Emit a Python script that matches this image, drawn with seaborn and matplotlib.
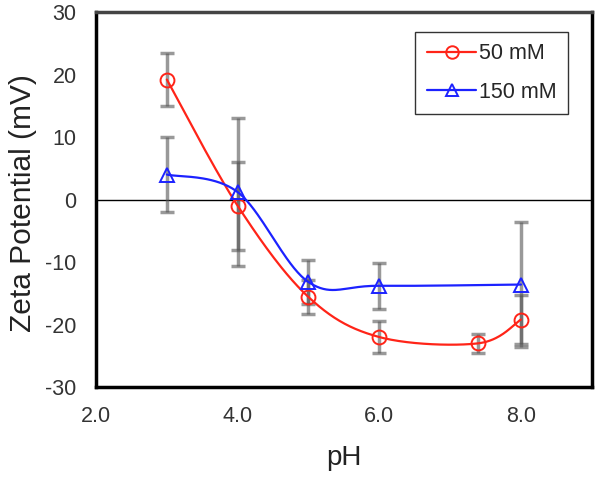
import numpy as np
import pandas as pd
import matplotlib
matplotlib.use("Agg")
import matplotlib.pyplot as plt
import seaborn as sns
from matplotlib.lines import Line2D

# Data
ph_50 = [3.0, 4.0, 5.0, 6.0, 7.4, 8.0]
zeta_50 = [19.2, -1.0, -15.6, -22.0, -23.0, -19.2]
err_50 = [4.2, 7.0, 2.7, 2.5, 1.5, 3.9]

ph_150 = [3.0, 4.0, 5.0, 6.0, 8.0]
zeta_150 = [4.0, 1.2, -13.2, -13.8, -13.6]
err_150 = [6.0, 11.8, 3.5, 3.7, 10.0]

y_ticks = [-30, -20, -10, 0, 10, 20, 30]
x_ticks = [2.0, 4.0, 6.0, 8.0]


def smooth(x, y, n=40):
    # Excel-like smoothed line (Catmull-Rom as cubic Bezier)
    p = np.column_stack([x, y]).astype(float)
    pts = [p[0]] + list(p) + [p[-1]]
    out = []
    t = np.linspace(0, 1, n)[:, None]
    for i in range(1, len(pts) - 2):
        p0, p1, p2, p3 = pts[i - 1], pts[i], pts[i + 1], pts[i + 2]
        c1 = p1 + (p2 - p0) / 6
        c2 = p2 - (p3 - p1) / 6
        seg = ((1 - t) ** 3) * p1 + 3 * ((1 - t) ** 2) * t * c1 + 3 * (1 - t) * t ** 2 * c2 + t ** 3 * p2
        out.append(seg)
    s = np.vstack(out)
    return s[:, 0], s[:, 1]


sns.set_style("white")
plt.rcParams["font.family"] = ["Liberation Sans", "DejaVu Sans"]
plt.rcParams["axes.unicode_minus"] = False

fig = plt.figure(figsize=(6.02, 4.82), dpi=100)
ax = fig.add_axes([0.1595, 0.197, 0.8235, 0.778])

red = "#ff2418"
blue = "#1c22ff"

ax.axhline(0, color="black", lw=1.0, zorder=1)

# error bars (semi transparent grey)
ax.errorbar(ph_50, zeta_50, yerr=err_50, fmt="none", ecolor="#555555",
            alpha=0.6, elinewidth=2.5, capsize=5, capthick=2.5, zorder=2)
ax.errorbar(ph_150, zeta_150, yerr=err_150, fmt="none", ecolor="#555555",
            alpha=0.6, elinewidth=2.5, capsize=5, capthick=2.5, zorder=2)

# smoothed curves
sx, sy = smooth(ph_50, zeta_50)
sns.lineplot(x=sx, y=sy, sort=False, color=red, lw=1.6, ax=ax, zorder=3)
bx, by = smooth(ph_150, zeta_150)
sns.lineplot(x=bx, y=by, sort=False, color=blue, lw=1.6, ax=ax, zorder=3)

# markers
df50 = pd.DataFrame({"pH": ph_50, "zeta": zeta_50})
df150 = pd.DataFrame({"pH": ph_150, "zeta": zeta_150})
ax.plot(df50["pH"], df50["zeta"], ls="none", marker="o", ms=10, mfc="none",
        mec=red, mew=1.4, zorder=4)
ax.plot(df150["pH"], df150["zeta"], ls="none", marker="^", ms=10, mfc="none",
        mec=blue, mew=1.4, zorder=4)

ax.set_xlim(2, 9)
ax.set_ylim(-30, 30)
ax.set_xticks(x_ticks)
ax.set_xticklabels([f"{v:.1f}" for v in x_ticks])
ax.set_yticks(y_ticks)
ax.tick_params(direction="in", length=3, width=1.5, labelsize=15.5, colors="black",
               labelcolor="#333333", pad=14)
for s in ax.spines.values():
    s.set_linewidth(2.5)
    s.set_color("black")
ax.spines["top"].set_color("#444444")

ax.set_xlabel("pH", fontsize=20, color="#222222", va="top")
ax.xaxis.set_label_coords(0.5, -0.155)
ax.set_ylabel("Zeta Potential (mV)", fontsize=21.5, color="#222222", va="center")
ax.yaxis.set_label_coords(-0.148, 0.49)

handles = [
    Line2D([], [], color=red, lw=1.6, marker="o", ms=9, mfc="none", mec=red, mew=1.4),
    Line2D([], [], color=blue, lw=1.6, marker="^", ms=9, mfc="none", mec=blue, mew=1.4),
]
leg = ax.legend(handles, ["50 mM", "150 mM"], loc="upper right",
                bbox_to_anchor=(0.952, 0.948), borderaxespad=0, fontsize=15.5,
                frameon=True, fancybox=False, edgecolor="black", handlelength=2.3,
                handletextpad=0.1, borderpad=0.55, labelspacing=0.8)
leg.get_frame().set_linewidth(1.0)

fig.savefig("out.png", dpi=100)
